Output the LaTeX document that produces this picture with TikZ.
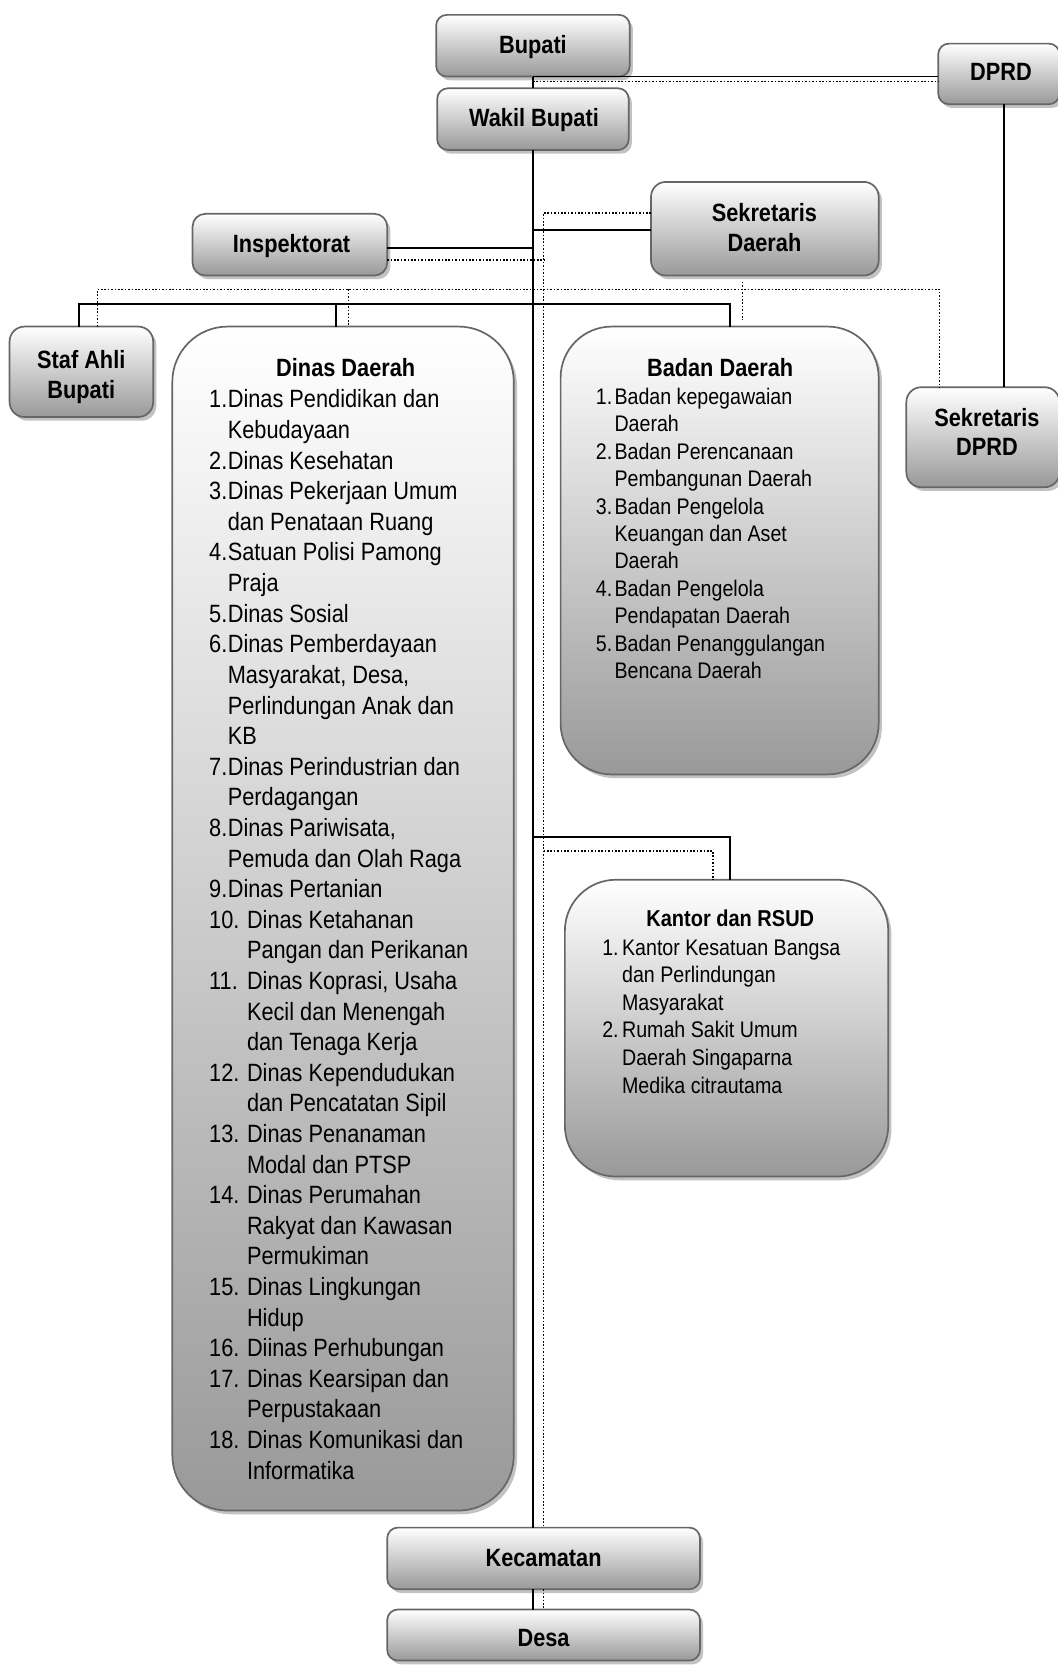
\documentclass[tikz,border=0pt]{standalone}
\usepackage{fontspec}
\setmainfont{Liberation Sans}[FakeStretch=0.87]
\usetikzlibrary{shadows}
\tikzset{
  box/.style={draw=black!60, line width=1.6pt, top color=white, bottom color=black!40,
    inner sep=0pt, outer sep=0pt,
    drop shadow={shadow xshift=3pt, shadow yshift=-3.5pt, fill=black!40, opacity=0.6}},
  conn/.style={line width=1.7pt, black},
  dots/.style={line width=1.5pt, black, dash pattern=on 1.5pt off 1.7pt},
  lbl/.style={font=\bfseries\fontsize{23.5}{28}\selectfont, inner sep=0pt, anchor=base},
  ttl/.style={font=\bfseries\fontsize{23.5}{28}\selectfont, inner sep=0pt, anchor=base},
  ttls/.style={font=\bfseries\fontsize{21.6}{26}\selectfont, inner sep=0pt, anchor=base},
  lstbig/.style={font=\fontsize{23.5}{28}\selectfont, inner sep=0pt, anchor=base west},
  lstsmall/.style={font=\fontsize{21.2}{26}\selectfont, inner sep=0pt, anchor=base west}
}
\newcommand\mkbox[6]{%
  \node[box, rounded corners=#6pt, minimum width={#4-#2}, minimum height={#5-#3}]
    (#1) at ({(#2+#4)/2},{(#3+#5)/2}) {};}
\begin{document}
\begin{tikzpicture}[x=1pt,y=-1pt]
\useasboundingbox (0,0) rectangle (994,1568);
% boxes
\mkbox{bupati}{410}{14}{592}{72}{10}
\mkbox{wakil}{411}{83}{591}{141}{10}
\mkbox{dprd}{882}{41}{996}{98}{10}
\mkbox{sekda}{612}{171}{826}{259}{14}
\mkbox{insp}{181}{201}{364}{259}{12}
\mkbox{staf}{9}{307}{144}{392}{14}
\mkbox{dinas}{162}{307}{483}{1420}{52}
\mkbox{badan}{527}{307}{826}{728}{48}
\mkbox{sekdprd}{852}{364}{996}{458}{14}
\mkbox{kantor}{531}{827}{835}{1106}{48}
\mkbox{kec}{364}{1436}{658}{1494}{10}
\mkbox{desa}{364}{1513}{658}{1561}{10}
% labels
\node[lbl] (tbupati) at (501,50) {Bupati};
\node[lbl] (twakil) at (502,118.5) {Wakil Bupati};
\node[lbl] (tdprd) at (941,76) {DPRD};
\node[lbl] (tsekda1) at (718.6,208.5) {Sekretaris};
\node[lbl] (tsekda2) at (718.6,236.5) {Daerah};
\node[lbl] (tinsp) at (274,237) {Inspektorat};
\node[lbl] (tstaf1) at (76.4,346.4) {Staf Ahli};
\node[lbl] (tstaf2) at (76.4,374.6) {Bupati};
\node[lbl] (tsekdprd1) at (927.8,401) {Sekretaris};
\node[lbl] (tsekdprd2) at (927.8,428) {DPRD};
\node[lbl] (tkec) at (511,1472.6) {Kecamatan};
\node[lbl] (tdesa) at (511,1548) {Desa};
\node[ttl] (tdinas) at (325,354) {Dinas Daerah};
\node[ttl] (tbadan) at (677,353.6) {Badan Daerah};
\node[ttls] (tkantor) at (686.5,871.4) {Kantor dan RSUD};
% Dinas list
\foreach [count=\i from 0] \nm/\tx in {1./Dinas Pendidikan dan, /Kebudayaan,
  2./Dinas Kesehatan, 3./Dinas Pekerjaan Umum, /dan Penataan Ruang,
  4./Satuan Polisi Pamong, /Praja, 5./Dinas Sosial, 6./Dinas Pemberdayaan,
  /{Masyarakat, Desa,}, /Perlindungan Anak dan, /KB,
  7./Dinas Perindustrian dan, /Perdagangan, 8./{Dinas Pariwisata,},
  /Pemuda dan Olah Raga, 9./Dinas Pertanian}
  \node[lstbig] (dl\i) at (196.5,{383.5+28.77*\i}) {\makebox[17.5pt][l]{\nm}\tx};
\foreach [count=\i from 17] \nm/\tx in {10./Dinas Ketahanan, /Pangan dan Perikanan,
  11./{Dinas Koprasi, Usaha}, /Kecil dan Menengah, /dan Tenaga Kerja,
  12./Dinas Kependudukan, /dan Pencatatan Sipil, 13./Dinas Penanaman,
  /Modal dan PTSP, 14./Dinas Perumahan, /Rakyat dan Kawasan, /Permukiman,
  15./Dinas Lingkungan, /Hidup, 16./Diinas Perhubungan, 17./Dinas Kearsipan dan,
  /Perpustakaan, 18./Dinas Komunikasi dan, /Informatika}
  \node[lstbig] (dl\i) at (196.5,{383.5+28.77*\i}) {\makebox[35.5pt][l]{\nm}\tx};
% Badan list
\foreach [count=\i from 0] \nm/\tx in {1./Badan kepegawaian, /Daerah,
  2./Badan Perencanaan, /Pembangunan Daerah, 3./Badan Pengelola,
  /Keuangan dan Aset, /Daerah, 4./Badan Pengelola, /Pendapatan Daerah,
  5./Badan Penanggulangan, /Bencana Daerah}
  \node[lstsmall] (bl\i) at (560,{380+25.8*\i}) {\makebox[17.5pt][l]{\nm}\tx};
% Kantor list
\foreach [count=\i from 0] \nm/\tx in {1./Kantor Kesatuan Bangsa, /dan Perlindungan,
  /Masyarakat, 2./Rumah Sakit Umum, /Daerah Singaparna, /Medika citrautama}
  \node[lstsmall] (kl\i) at (566,{898+25.9*\i}) {\makebox[18.6pt][l]{\nm}\tx};
% coordinates
\coordinate (bd) at (501,76.5);
\coordinate (sj) at (501,216);
\coordinate (sdt) at (511,200);
\coordinate (ij) at (501,233);
\coordinate (id) at (514,244.5);
\coordinate (bl) at (74,286);
\coordinate (br) at (686,286);
\coordinate (bm) at (316,286);
\coordinate (dl) at (91.5,272);
\coordinate (dr) at (883,272);
\coordinate (dm) at (327.5,272);
\coordinate (ds1) at (698,265);
\coordinate (ds2) at (698,301);
\coordinate (dv) at (944,364);
\coordinate (kj) at (501,787);
\coordinate (kc) at (686,787);
\coordinate (kd) at (511,800);
\coordinate (kd2) at (670,800);
% solid connectors
\draw[conn] (bupati.south) -- (wakil.north);
\draw[conn] (bupati.south) -- (bupati.south -| dprd.west);
\draw[conn] (wakil.south) -- (wakil.south |- kec.north);
\draw[conn] (kec.south -| wakil.south) -- (desa.north -| wakil.south);
\draw[conn] (sj) -- (sj -| sekda.west);
\draw[conn] (insp.east |- ij) -- (ij);
\draw[conn] (bl |- staf.north) -- (bl) -- (br) -- (br |- badan.north);
\draw[conn] (bm) -- (bm |- dinas.north);
\draw[conn] (dv |- dprd.south) -- (dv);
\draw[conn] (kj) -- (kc) -- (kc |- kantor.north);
% dotted connectors
\draw[dots] (bd) -- (bd -| dprd.west);
\draw[dots] (sdt -| sekda.west) -- (sdt) -- (sdt |- kec.north);
\draw[dots] (kec.south -| sdt) -- (desa.north -| sdt);
\draw[dots] (insp.east |- id) -- (id);
\draw[dots] (dl |- staf.north) -- (dl) -- (dr) -- (dr |- sekdprd.north);
\draw[dots] (dm) -- (dm |- dinas.north);
\draw[dots] (ds1) -- (ds2);
\draw[dots] (kd) -- (kd2) -- (kd2 |- kantor.north);
\end{tikzpicture}
\end{document}
